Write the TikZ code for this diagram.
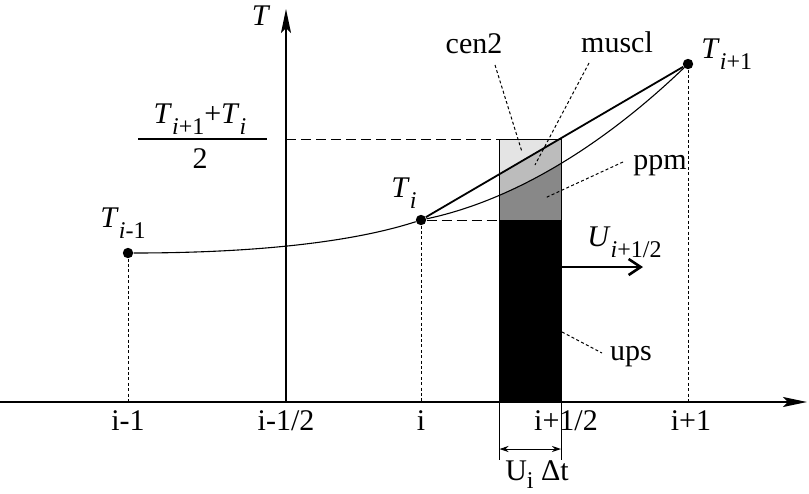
\documentclass[tikz,border=0pt]{standalone}
\usepackage{fontspec}
\setmainfont{Liberation Serif}
\usetikzlibrary{arrows.meta}
\definecolor{gLight}{RGB}{228,228,228}
\definecolor{gMid}{RGB}{188,188,188}
\definecolor{gDark}{RGB}{136,136,136}
\newcommand{\subs}[1]{\raisebox{-5.5pt}{\fontsize{12}{12}\selectfont #1}}
\newcommand{\subsm}[1]{\raisebox{-4pt}{\fontsize{12}{12}\selectfont #1}}
\begin{document}
\begin{tikzpicture}[x=0.5pt,y=-0.5pt,
  lbl/.style={inner sep=0pt,font=\fontsize{15}{18}\selectfont},
  dotnode/.style={circle,fill=black,inner sep=0pt,minimum size=5.2pt},
  dotline/.style={line width=0.5pt,dash pattern=on 1.5pt off 1.2pt},
  dashline/.style={line width=0.5pt,dash pattern=on 5pt off 2.5pt},
  curveline/.style={line width=0.55pt},
  axisline/.style={line width=0.8pt,-{Stealth[length=12pt,width=5pt,inset=2.5pt]}},
]
\useasboundingbox (0,0) rectangle (809,493);

% rectangle fills
\begin{scope}
  \clip (499.5,139) rectangle (561,220);
  \fill[gDark] (499.5,139) rectangle (561,220);
  \fill[gMid] (421,220) .. controls (510,201.2) and (599,149.2) .. (688,64) -- (688,0) -- (421,0) -- cycle;
  \fill[gLight] (421,220) -- (688,64) -- (688,0) -- (421,0) -- cycle;
\end{scope}
\fill[black] (499.5,220) rectangle (561,402);
\draw[line width=0.5pt] (499.5,139) rectangle (561,402);

% points
\node[dotnode] (P0) at (128,253) {};
\node[dotnode] (P1) at (421,220) {};
\node[dotnode] (P2) at (688,64) {};

% axis coordinates
\coordinate (xa0) at (0,402);
\coordinate (xa1) at (807,402);
\coordinate (ya0) at (286,402);
\coordinate (ya1) at (286,9);
\coordinate (P0b) at (128,402);
\coordinate (P1b) at (421,402);
\coordinate (P2b) at (688,402);

% dotted verticals
\draw[dotline] (P0) -- (P0b);
\draw[dotline] (P1) -- (P1b);
\draw[dotline] (P2) -- (P2b);

% dashed horizontals
\coordinate (hA) at (286,139);
\coordinate (hB) at (499.5,139);
\coordinate (hC) at (499.5,220);
\draw[dashline] (hA) -- (hB);
\draw[dashline] (P1) -- (hC);

% curves
\draw[curveline] (P0) .. controls (250,253) and (350,243) .. (P1);
\draw[curveline] (P1) .. controls (510,201.2) and (599,149.2) .. (P2);
\draw[line width=0.9pt] (P1) -- (P2);

% axes
\draw[axisline] (xa0) -- (xa1);
\draw[axisline] (ya0) -- (ya1);

% width marker
\coordinate (wl0) at (499.5,402);
\coordinate (wl1) at (499.5,460);
\coordinate (wr0) at (561,402);
\coordinate (wr1) at (561,460);
\coordinate (wa0) at (499.5,449);
\coordinate (wa1) at (561,449);
\draw[line width=0.5pt] (wl0) -- (wl1);
\draw[line width=0.5pt] (wr0) -- (wr1);
\draw[line width=0.5pt,{Stealth[length=4.5pt,width=3pt]}-{Stealth[length=4.5pt,width=3pt]}] (wa0) -- (wa1);

% velocity arrow
\coordinate (ua0) at (561,267);
\coordinate (ua1) at (643,267);
\draw[line width=1.2pt,-{Straight Barb[length=6pt,width=8pt,line width=1.3pt]}] (ua0) -- (ua1);

% labels
\node[lbl,anchor=base] (LT) at (261,25) {\textit{T}};
\node[lbl,anchor=base west] (LT0) at (100,227) {\textit{T}\subs{\textit{i}-1}};
\node[lbl,anchor=base west] (LT1) at (391,197) {\textit{T}\subs{\textit{i}}};
\node[lbl,anchor=base west] (LT2) at (701,58) {\textit{T}\subs{\textit{i}+1}};
\node[lbl,anchor=base] (fnum) at (200,123) {\textit{T}\subs{\textit{i}+1}+\textit{T}\subs{\textit{i}}};
\node[lbl,anchor=base] (fden) at (200,168) {2};
\coordinate (fbL) at (138,139);
\coordinate (fbR) at (267,139);
\draw[line width=0.75pt] (fbL) -- (fbR);

\node[lbl,anchor=base] (x1) at (128,430) {i-1};
\node[lbl,anchor=base] (x2) at (286,430) {i-1/2};
\node[lbl,anchor=base] (x3) at (421,430) {i};
\node[lbl,anchor=base] (x4) at (566,430) {i+1/2};
\node[lbl,anchor=base] (x5) at (691,430) {i+1};
\node[lbl,anchor=base] (Udt) at (537,480) {U\subsm{i} Δt};
\node[lbl,anchor=base west] (Ulab) at (587,246) {\textit{U}\subs{\textit{i}+1/2}};

\node[lbl,anchor=base] (cen) at (474,53) {cen2};
\node[lbl,anchor=base] (mus) at (617,52) {muscl};
\node[lbl,anchor=base] (ppm) at (660,169) {ppm};
\node[lbl,anchor=base] (ups) at (631,360) {ups};

% leaders
\coordinate (lc0) at (495,65);  \coordinate (lc1) at (522,152);
\coordinate (lm0) at (589,63);  \coordinate (lm1) at (535,165);
\coordinate (lp0) at (623,162); \coordinate (lp1) at (545,198);
\coordinate (lu0) at (562,332); \coordinate (lu1) at (602,353);
\draw[dotline] (lc0) -- (lc1);
\draw[dotline] (lm0) -- (lm1);
\draw[dotline] (lp0) -- (lp1);
\draw[dotline] (lu0) -- (lu1);
\end{tikzpicture}
\end{document}
